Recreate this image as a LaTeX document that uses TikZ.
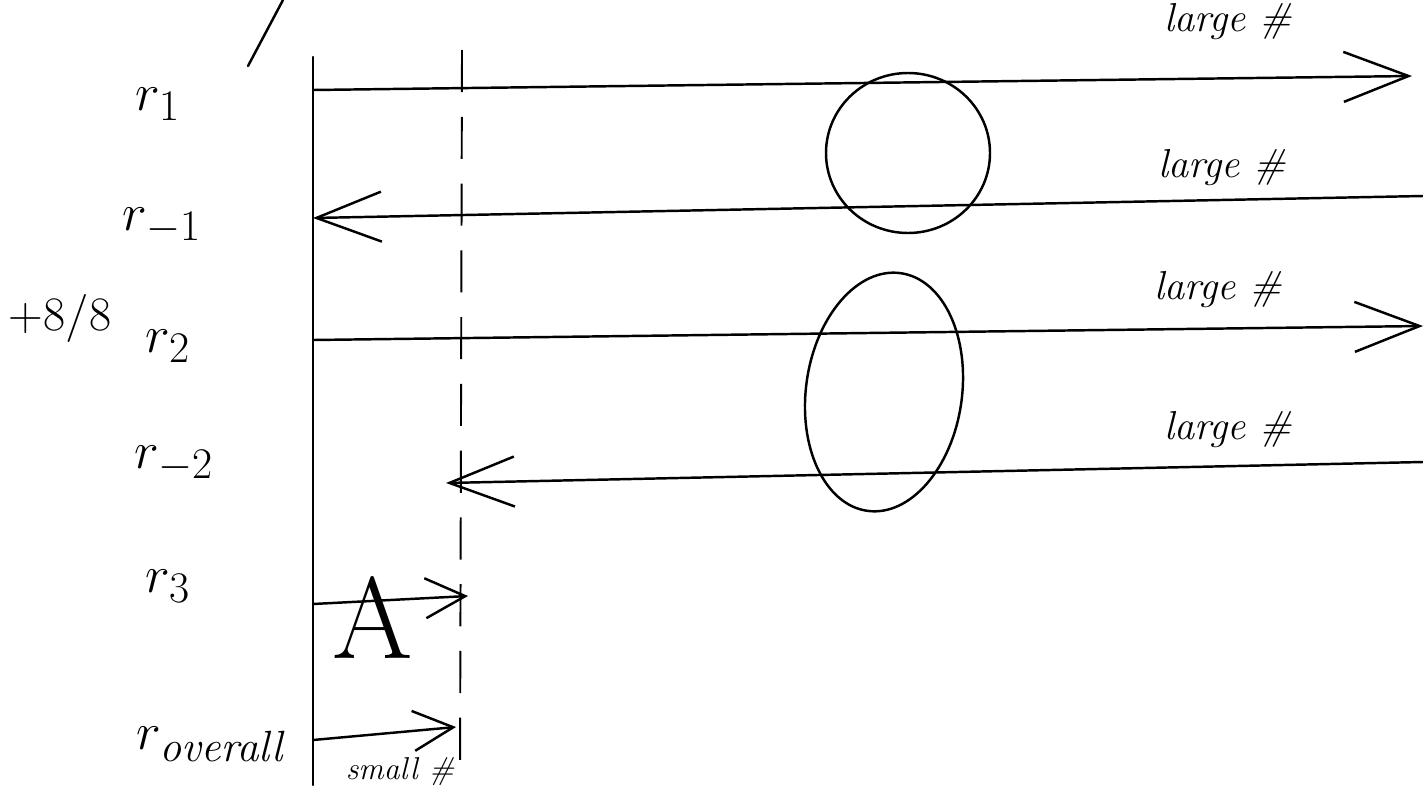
\documentclass[tikz,border=0pt]{standalone}
\usetikzlibrary{arrows.meta}
\newcommand{\mylbl}[2]{\scalebox{#1}{\Huge$#2$}}
\begin{document}
\begin{tikzpicture}[x=0.02cm,y=-0.02cm,
  ink/.style={line width=1.4pt,line cap=round,line join=round},
  flow/.style={ink,-{Straight Barb[length=1.3cm,width=1.0cm,line width=1.4pt]}},
  smallflow/.style={ink,-{Straight Barb[length=0.8cm,width=0.8cm,line width=1.4pt]}},
  lbl/.style={inner sep=0pt},
  note/.style={inner sep=0pt,font=\itshape\fontsize{23}{26}\selectfont},
  guide/.style={line width=1.1pt,dash pattern=on 24pt off 14pt}]
\useasboundingbox (0,0) rectangle (1423,794);
% slash
\draw[ink] (248,66) -- (283,0);
% axis and dashed guide
\coordinate (axtop) at (313,57);
\coordinate (axbot) at (313,785);
\draw[ink] (axtop) -- (axbot);
\coordinate (gtop) at (462,50);
\coordinate (gbot) at (460,780);
\draw[guide] (gtop) -- (gbot);
% axis anchor points
\coordinate (a1) at (313,90);
\coordinate (am1) at (313,218);
\coordinate (a2) at (313,340);
\coordinate (a3) at (313,604);
\coordinate (ao) at (313,740);
% far ends
\coordinate (e1) at (1412,76);
\coordinate (em1) at (1423,196);
\coordinate (e2) at (1423,326);
\coordinate (em2) at (1423,462);
\coordinate (gm2) at (446,483);
\coordinate (g3) at (468,596);
\coordinate (go) at (456,727);
% arrows
\draw[flow] (a1) -- (e1);
\draw[flow] (em1) -- (am1);
\draw[flow] (a2) -- (e2);
\draw[flow] (em2) -- (gm2);
\draw[smallflow] (a3) -- (g3);
\draw[smallflow] (ao) -- (go);
% circles
\draw[ink] (908,153) ellipse [x radius=82, y radius=80];
\draw[ink,rotate around={-8:(884,392)}] (884,392) ellipse [x radius=78, y radius=120];
% A
\node[inner sep=0pt,font=\fontsize{66}{72}\selectfont] (A) at (373,618) {A};
% labels
\node[lbl] (r1) at (158,104) {\mylbl{1.2}{r_{1}}};
\node[lbl] (rm1) at (162,226) {\mylbl{1.2}{r_{-1}}};
\node[lbl] (r2) at (168,346) {\mylbl{1.2}{r_{2}}};
\node[lbl] (rm2) at (174,464) {\mylbl{1.2}{r_{-2}}};
\node[lbl] (r3) at (168,586) {\mylbl{1.2}{r_{3}}};
\node[lbl] (ro) at (212,744) {\mylbl{1.2}{r_{\mathit{overall}}}};
\node[lbl] (frac) at (60,318) {\mylbl{1.1}{+8/8}};
% large # labels
\node[note] (l1) at (1228,22) {large \#};
\node[note] (l2) at (1222,168) {large \#};
\node[note] (l3) at (1218,290) {large \#};
\node[note] (l4) at (1228,430) {large \#};
\node[note,font=\itshape\fontsize{18}{20}\selectfont] (sm) at (400,772) {small \#};
\end{tikzpicture}
\end{document}
